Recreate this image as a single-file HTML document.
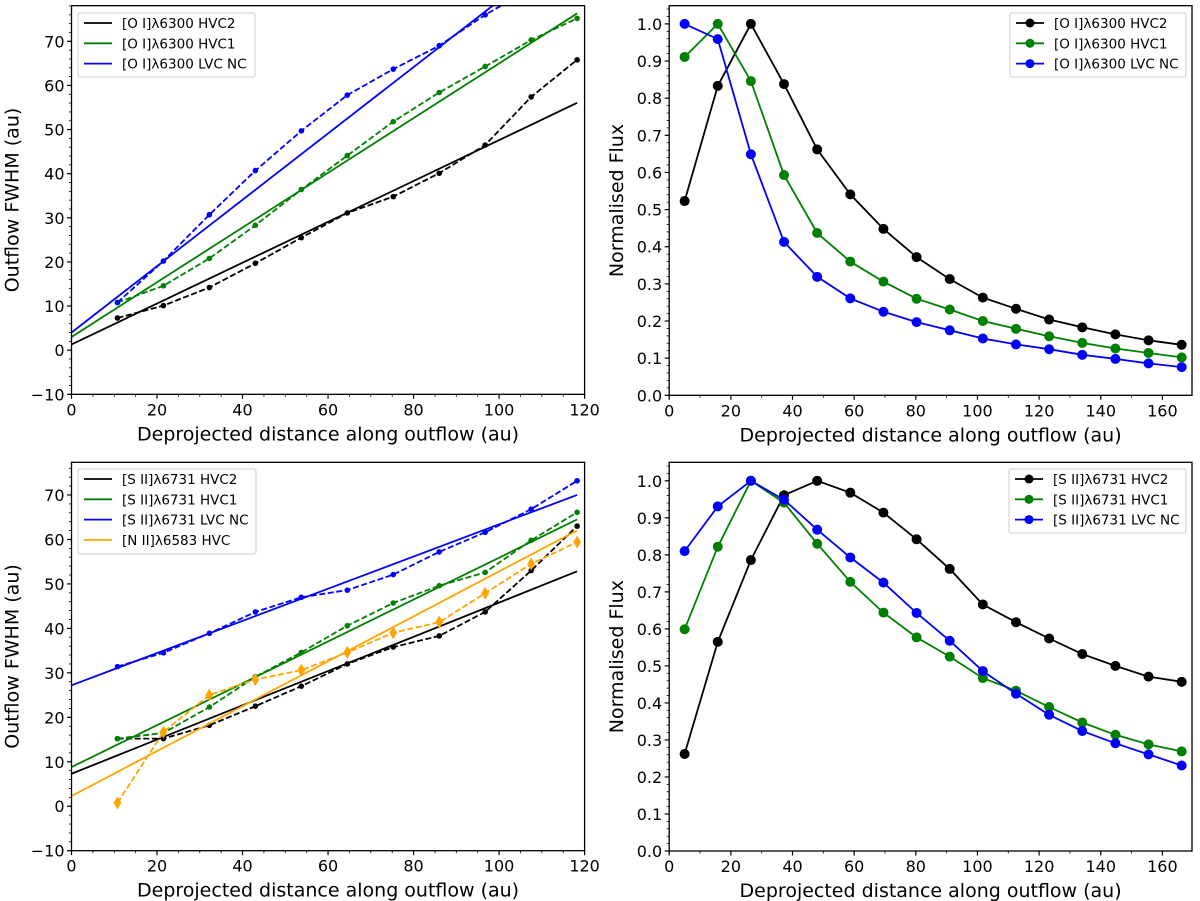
<!DOCTYPE html>
<html><head><meta charset="utf-8"><style>
body{margin:0;background:#fff;}
svg{display:block;font-family:"DejaVu Sans","Liberation Sans",sans-serif;}
</style></head><body>
<svg id="fig" width="1200" height="901" viewBox="0 0 1200 901" xmlns="http://www.w3.org/2000/svg"></svg>
<script>
// ---------- data ----------
const distL = [10.75,21.5,32.25,43,53.75,64.5,75.25,86,96.75,107.5,118.25];
const oiHvc2W = [7.3,10.1,14.2,19.7,25.5,31.1,34.8,40.1,46.5,57.4,65.8];
const oiHvc1W = [10.8,14.6,20.8,28.3,36.4,44.1,51.8,58.4,64.3,70.3,75.2];
const oiLvcW  = [10.8,20.2,30.7,40.7,49.7,57.8,63.7,69.0,76.0,82.0,88.0];
const oiFitIntercept = [1.3,3.0,4.0];
const oiFitSlope = [0.463,0.620,0.752];

const distR = [5,15.75,26.5,37.25,48,58.75,69.5,80.25,91,101.75,112.5,123.25,134,144.75,155.5,166.25];
const oiHvc2F = [.523,.833,1.0,.838,.662,.541,.448,.372,.313,.263,.233,.204,.183,.164,.148,.136];
const oiHvc1F = [.911,1.0,.846,.593,.437,.36,.306,.26,.231,.2,.179,.159,.141,.126,.114,.102];
const oiLvcF  = [1.0,.959,.649,.413,.319,.261,.225,.197,.175,.153,.137,.124,.109,.098,.086,.076];

const siiHvc2W = [15.2,15.2,18.2,22.5,27.0,32.0,35.8,38.3,43.7,53.0,63.0];
const siiHvc1W = [15.2,16.5,22.3,29.1,34.6,40.6,45.7,49.6,52.6,59.8,66.1];
const siiLvcW  = [31.4,34.5,38.9,43.7,47.0,48.6,52.1,57.2,61.6,66.8,73.2];
const niiHvcW  = [0.75,16.7,25.0,28.5,30.6,34.6,39.0,41.4,47.9,54.5,59.4];
const siiFitIntercept = [7.3,8.8,27.2,2.3];
const siiFitSlope = [0.385,0.471,0.362,0.505];

const siiHvc2F = [.262,.565,.786,.961,1.0,.968,.914,.842,.762,.666,.618,.574,.532,.5,.471,.457];
const siiHvc1F = [.599,.822,1.0,.941,.83,.727,.644,.577,.525,.467,.433,.389,.347,.314,.288,.269];
const siiLvcF  = [.81,.931,1.0,.949,.868,.793,.725,.643,.568,.486,.425,.368,.324,.291,.261,.231];

const xTicksL = [0,20,40,60,80,100,120];
const yTicksL = [-10,0,10,20,30,40,50,60,70];
const xTicksR = [0,20,40,60,80,100,120,140,160];
const yTicksR = [0,0.1,0.2,0.3,0.4,0.5,0.6,0.7,0.8,0.9,1.0];

// ---------- helpers ----------
const NS="http://www.w3.org/2000/svg";
const svg=document.getElementById('fig');
function mk(tag,attrs,parent){const e=document.createElementNS(NS,tag);for(const k in attrs)e.setAttribute(k,attrs[k]);(parent||svg).appendChild(e);return e;}
function panel(name,L,R,T,B,x0,x1,y0,y1){
  const g=mk('g',{});
  
  
  const clipId='clip-'+name;
  const cp=mk('clipPath',{id:clipId},g);mk('rect',{x:L,y:T,width:R-L,height:B-T},cp);
  const plot=mk('g',{'clip-path':'url(#'+clipId+')'},g);
  return {g,plot,L,R,T,B,sx:v=>L+(v-x0)/(x1-x0)*(R-L),sy:v=>B-(v-y0)/(y1-y0)*(B-T)};
}
function axes(p,xt,yt,xMinorStep,yMinorStep,x0,x1,y0,y1,ylab,yfmt,ylabOff){
  const {g,L,R,T,B}=p;
  for(let v=x0;v<=x1+1e-9;v+=xMinorStep){const x=p.sx(v);const t=mk('line',{x1:x,x2:x,y1:B,y2:B+2.5,stroke:'#000','stroke-width':0.8},g);}
  for(let v=Math.ceil(y0/yMinorStep)*yMinorStep;v<=y1+1e-9;v+=yMinorStep){const y=p.sy(v);const t=mk('line',{x1:L,x2:L-2.5,y1:y,y2:y,stroke:'#000','stroke-width':0.8},g);}
  xt.forEach(v=>{const x=p.sx(v);const t=mk('line',{x1:x,x2:x,y1:B,y2:B+4.5,stroke:'#000','stroke-width':1.2},g);
    const l=mk('text',{x:x,y:B+21,'font-size':16,'text-anchor':'middle'},g);l.textContent=String(v);});
  yt.forEach(v=>{const y=p.sy(v);const t=mk('line',{x1:L,x2:L-4.5,y1:y,y2:y,stroke:'#000','stroke-width':1.2},g);
    const l=mk('text',{x:L-7,y:y+6,'font-size':16,'text-anchor':'end'},g);l.textContent=yfmt(v);});
  const fr=mk('rect',{x:L,y:T,width:R-L,height:B-T,fill:'none',stroke:'#000','stroke-width':1.3},g);
  const xl=mk('text',{x:(L+R)/2,y:B+46,'font-size':19,'text-anchor':'middle'},g);xl.textContent='Deprojected distance along outflow (au)';
  const cy=(T+B)/2;const yl=mk('text',{x:0,y:0,'font-size':19,'text-anchor':'middle',transform:'translate('+(L-ylabOff)+','+cy+') rotate(-90)'},g);yl.textContent=ylab;
}
function series(p,xs,ys,color,opt){
  const pts=xs.map((x,i)=>p.sx(x).toFixed(1)+','+p.sy(ys[i]).toFixed(1)).join(' ');
  const pl=mk('polyline',{points:pts,fill:'none',stroke:color,'stroke-width':1.8,'stroke-dasharray':opt.dash||'none'},p.plot);
  
  xs.forEach((x,i)=>{const cx=p.sx(x),cy=p.sy(ys[i]);let m;
    if(opt.marker==='diamond'){const s=opt.size;m=mk('polygon',{points:`${cx},${cy-s} ${cx+s*0.6},${cy} ${cx},${cy+s} ${cx-s*0.6},${cy}`,fill:color},p.plot);}
    else m=mk('circle',{cx:cx,cy:cy,r:opt.size,fill:color},p.plot);
    });
}
function fit(p,a,b,xmax,color,name){
  const l=mk('line',{x1:p.sx(0),y1:p.sy(a),x2:p.sx(xmax),y2:p.sy(a+b*xmax),stroke:color,'stroke-width':1.8},p.plot);
  
}
function legend(p,x,y,w,h,items,markers){
  const g=mk('g',{},p.g);
  mk('rect',{x:x,y:y,width:w,height:h,rx:2,fill:'#fff',stroke:'#ccc','stroke-width':1},g);
  items.forEach((it,i)=>{const yy=y+10+i*20.3;
    const e=mk('g',{},g);
    mk('line',{x1:x+6,x2:x+34,y1:yy,y2:yy,stroke:it[1],'stroke-width':1.8},e);
    if(markers)mk('circle',{cx:x+20,cy:yy,r:4.5,fill:it[1]},e);
    const t=mk('text',{x:x+44,y:yy+5,'font-size':13.5},e);t.textContent=it[0];});
}
const C={k:'#000',g:'#008000',b:'#0000ff',o:'#ffa500'};
const fmt0=v=>v<0?'\u2212'+Math.abs(v):String(v);
const fmt1=v=>v.toFixed(1);

// ---------- top-left ----------
let p=panel('panel-oi-fwhm',71.5,584.6,5.7,394.3,0,120,-10,78.07);
axes(p,xTicksL,yTicksL,5,2,0,120,-10,78.07,'Outflow FWHM (au)',fmt0,53);
[[oiHvc2W,C.k,'oi-hvc2'],[oiHvc1W,C.g,'oi-hvc1'],[oiLvcW,C.b,'oi-lvc-nc']].forEach((s,i)=>{
  series(p,distL,s[0],s[1],{dash:'6,2.6',size:2.8,name:s[2]});
  fit(p,oiFitIntercept[i],oiFitSlope[i],118.25,s[1],s[2]+'-fit');});
legend(p,78,13,177,64,[['[O I]\u03bb6300 HVC2',C.k],['[O I]\u03bb6300 HVC1',C.g],['[O I]\u03bb6300 LVC NC',C.b]],false);

// ---------- top-right ----------
p=panel('panel-oi-flux',669.2,1192,5.7,395.3,0,169.6,0,1.049);
axes(p,xTicksR,yTicksR,10,0.02,0,169.6,0,1.049,'Normalised Flux',fmt1,46);
[[oiHvc2F,C.k,'oi-hvc2-flux'],[oiHvc1F,C.g,'oi-hvc1-flux'],[oiLvcF,C.b,'oi-lvc-flux']].forEach(s=>series(p,distR,s[0],s[1],{size:5,name:s[2]}));
legend(p,1010,13,176,64,[['[O I]\u03bb6300 HVC2',C.k],['[O I]\u03bb6300 HVC1',C.g],['[O I]\u03bb6300 LVC NC',C.b]],true);

// ---------- bottom-left ----------
p=panel('panel-sii-fwhm',71.5,584.6,462.3,850.7,0,120,-10,77.35);
axes(p,xTicksL,yTicksL,5,2,0,120,-10,77.35,'Outflow FWHM (au)',fmt0,53);
[[siiHvc2W,C.k,'sii-hvc2'],[siiHvc1W,C.g,'sii-hvc1'],[siiLvcW,C.b,'sii-lvc-nc'],[niiHvcW,C.o,'nii-hvc']].forEach((s,i)=>{
  series(p,distL,s[0],s[1],{dash:'6,2.6',size:i===3?6.5:2.8,marker:i===3?'diamond':'circle',name:s[2]});
  fit(p,siiFitIntercept[i],siiFitSlope[i],118.25,s[1],s[2]+'-fit');});
legend(p,78,469,178,85,[['[S II]\u03bb6731 HVC2',C.k],['[S II]\u03bb6731 HVC1',C.g],['[S II]\u03bb6731 LVC NC',C.b],['[N II]\u03bb6583 HVC',C.o]],false);

// ---------- bottom-right ----------
p=panel('panel-sii-flux',669.2,1192,462.3,851,0,169.6,0,1.05);
axes(p,xTicksR,yTicksR,10,0.02,0,169.6,0,1.05,'Normalised Flux',fmt1,46);
[[siiHvc2F,C.k,'sii-hvc2-flux'],[siiHvc1F,C.g,'sii-hvc1-flux'],[siiLvcF,C.b,'sii-lvc-flux']].forEach(s=>series(p,distR,s[0],s[1],{size:5,name:s[2]}));
legend(p,1009,469,177,64,[['[S II]\u03bb6731 HVC2',C.k],['[S II]\u03bb6731 HVC1',C.g],['[S II]\u03bb6731 LVC NC',C.b]],true);
</script>
</body></html>
